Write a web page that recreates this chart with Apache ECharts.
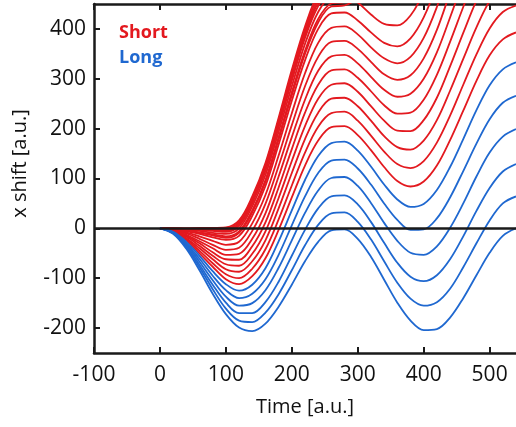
<!DOCTYPE html>
<html>
<head>
<meta charset="utf-8">
<script src="https://cdn.jsdelivr.net/npm/echarts@6/dist/echarts.min.js"></script>
<style>
html,body{margin:0;padding:0;background:#fff;}
#chart{width:516px;height:427px;}
</style>
</head>
<body>
<div id="chart"></div>
<script>
// ---- data ----
const timePoints = [0,20,40,60,80,100,120,140,160,180,200,220,240,260,280,300,320,340,360,380,400,420,440,460,480,500,520,540];
const xTickValues = [-100,0,100,200,300,400,500];
const yTickValues = [-200,-100,0,100,200,300,400];
const zeroLevel = [0];
const legendNames = ['Short','Long'];

// blue ("Long") curves, bottom to top
const longCurves = [
  [0,-11,-41,-84,-131,-172,-199,-206,-191,-157,-113,-66,-27,-4,-2,-21,-57,-103,-149,-185,-204,-202,-179,-140,-94,-49,-15,0],
  [0,-10,-38,-78,-122,-161,-185,-188,-169,-132,-84,-34,7,30,32,13,-22,-66,-109,-141,-155,-148,-121,-78,-30,16,50,64],
  [0,-9,-35,-73,-113,-149,-170,-170,-148,-107,-55,-3,40,64,66,48,13,-29,-69,-97,-106,-94,-62,-16,35,81,114,129],
  [0,-9,-32,-67,-104,-137,-155,-150,-124,-79,-24,31,76,101,103,85,51,11,-25,-49,-53,-36,1,50,104,152,184,199],
  [0,-8,-30,-61,-95,-124,-140,-131,-102,-53,6,64,111,136,138,120,88,50,17,-3,-2,20,62,115,170,219,252,266],
  [0,-7,-27,-55,-86,-112,-125,-113,-80,-26,36,97,145,171,174,156,124,88,58,43,49,77,123,179,237,287,319,333]
];

// red ("Short") curves whose whole swing is visible, bottom to top
const shortCurves = [
  [0,-6,-24,-50,-77,-102,-112,-96,-60,-3,62,126,176,203,205,187,157,123,95,84,94,126,177,236,296,347,379,393],
  [0,-6,-22,-45,-70,-92,-100,-81,-42,18,86,152,204,231,234,216,186,154,129,121,135,172,226,288,349,401,434,447],
  [0,-5,-20,-40,-62,-82,-87,-66,-24,40,111,179,232,260,262,245,216,185,163,158,176,217,276,340,403,456,488,501],
  [0,-5,-17,-35,-55,-72,-75,-51,-6,61,135,205,260,288,291,274,245,216,196,195,217,262,325,392,457,510,543,555],
  [0,-4,-15,-30,-48,-62,-63,-36,12,82,159,232,288,317,319,302,275,247,230,232,258,308,374,444,511,565,597,610],
  [0,-3,-13,-26,-40,-53,-51,-21,30,104,183,258,316,345,348,331,304,278,264,270,300,353,423,496,564,620,652,664],
  [0,-3,-10,-21,-33,-43,-39,-5,49,125,207,285,344,374,376,360,334,309,298,307,341,398,473,548,618,674,706,718],
  [0,-2,-8,-16,-25,-33,-27,10,67,146,231,311,372,402,405,389,363,341,331,344,382,444,522,600,672,729,761,773],
  [0,-2,-6,-11,-18,-23,-15,25,85,168,256,337,400,431,433,417,393,372,365,381,423,489,571,652,726,783,815,827],
  [0,-1,-3,-5,-9,-11,0,44,107,194,285,370,434,466,469,453,429,410,407,427,474,545,632,716,792,851,883,894]
];

// red ("Short") curves that leave the top of the frame (dense band), up to t = 300
const shortTopCurves = [
  [0,-1,-4,-9,-14,-19,-9,32,93,178,267,350,413,445,447,462],
  [0,-1,-4,-8,-12,-16,-6,36,97,183,273,356,420,451,454,468],
  [0,0,-2,-3,-5,-7,5,50,115,203,296,382,446,478,481,492],
  [0,0,-1,-2,-4,-5,8,54,119,208,302,388,453,485,488,498],
  [0,0,-1,-1,-2,-3,10,57,122,212,306,393,458,491,493,503],
  [0,0,0,0,0,0,13,60,127,217,312,399,465,497,500,510],
  [0,0,0,1,1,2,16,64,131,222,318,405,472,504,507,515]
];

// ---- build options ----
const RED = '#e3191f';
const BLUE = '#1f68d0';
const AXIS = '#1a1a1a';

function toPairs(vals){ return vals.map((v,i)=>[timePoints[i], v]); }

const series = [];
shortCurves.concat(shortTopCurves).forEach((c)=>{
  series.push({name:'Short', type:'line', data:toPairs(c), showSymbol:false, smooth:0.35,
    lineStyle:{color:RED, width:1.8}, itemStyle:{color:RED}, z:2, silent:true});
});
longCurves.forEach((c)=>{
  series.push({name:'Long', type:'line', data:toPairs(c), showSymbol:false, smooth:0.35,
    lineStyle:{color:BLUE, width:1.8}, itemStyle:{color:BLUE}, z:3, silent:true});
});
series.push({name:'zero', type:'line', data:[], z:10, silent:true,
  markLine:{silent:true, symbol:['none','none'], label:{show:false},
    lineStyle:{color:AXIS, width:2.5, type:'solid'},
    data: zeroLevel.map(v=>({yAxis:v}))}});

const chart = echarts.init(document.getElementById('chart'), null, {renderer:'canvas'});
chart.setOption({
  animation:false,
  backgroundColor:'#fff',
  grid:{left:94, right:0, top:4, bottom:74, containLabel:false},
  legend:{
    data:[{name:legendNames[0], textStyle:{color:RED}},{name:legendNames[1], textStyle:{color:BLUE}}],
    orient:'vertical', left:108, top:19, itemWidth:0, itemHeight:0, itemGap:7,
    selectedMode:false,
    textStyle:{fontFamily:'Open Sans', fontWeight:'bold', fontSize:18}
  },
  xAxis:[{
    type:'value', min:-100, max:540, position:'bottom',
    name:'Time [a.u.]', nameLocation:'middle', nameGap:44,
    nameTextStyle:{fontFamily:'Open Sans', fontSize:20, color:'#111'},
    axisLine:{show:true, onZero:false, lineStyle:{color:AXIS, width:2.5}},
    axisTick:{show:true, inside:true, length:6, lineStyle:{color:AXIS, width:2}, customValues:xTickValues},
    axisLabel:{show:true, customValues:xTickValues, margin:12, fontFamily:'Open Sans', fontSize:21, color:'#111'},
    splitLine:{show:false}
  },{
    type:'value', min:-100, max:540, position:'top',
    axisLine:{show:true, onZero:false, lineStyle:{color:AXIS, width:2.5}},
    axisTick:{show:true, inside:true, length:6, lineStyle:{color:AXIS, width:2}, customValues:xTickValues},
    axisLabel:{show:false},
    splitLine:{show:false}
  }],
  yAxis:[{
    type:'value', min:-250, max:450,
    name:'x shift [a.u.]', nameLocation:'middle', nameGap:64, nameRotate:90,
    nameTextStyle:{fontFamily:'Open Sans', fontSize:20, color:'#111', padding:[0,0,0,30]},
    axisLine:{show:true, onZero:false, lineStyle:{color:AXIS, width:2.5}},
    axisTick:{show:true, inside:true, length:6, lineStyle:{color:AXIS, width:2}, customValues:yTickValues},
    axisLabel:{show:true, customValues:yTickValues, margin:8, fontFamily:'Open Sans', fontSize:21, color:'#111'},
    splitLine:{show:false}
  }],
  series:series
});
</script>
</body>
</html>
